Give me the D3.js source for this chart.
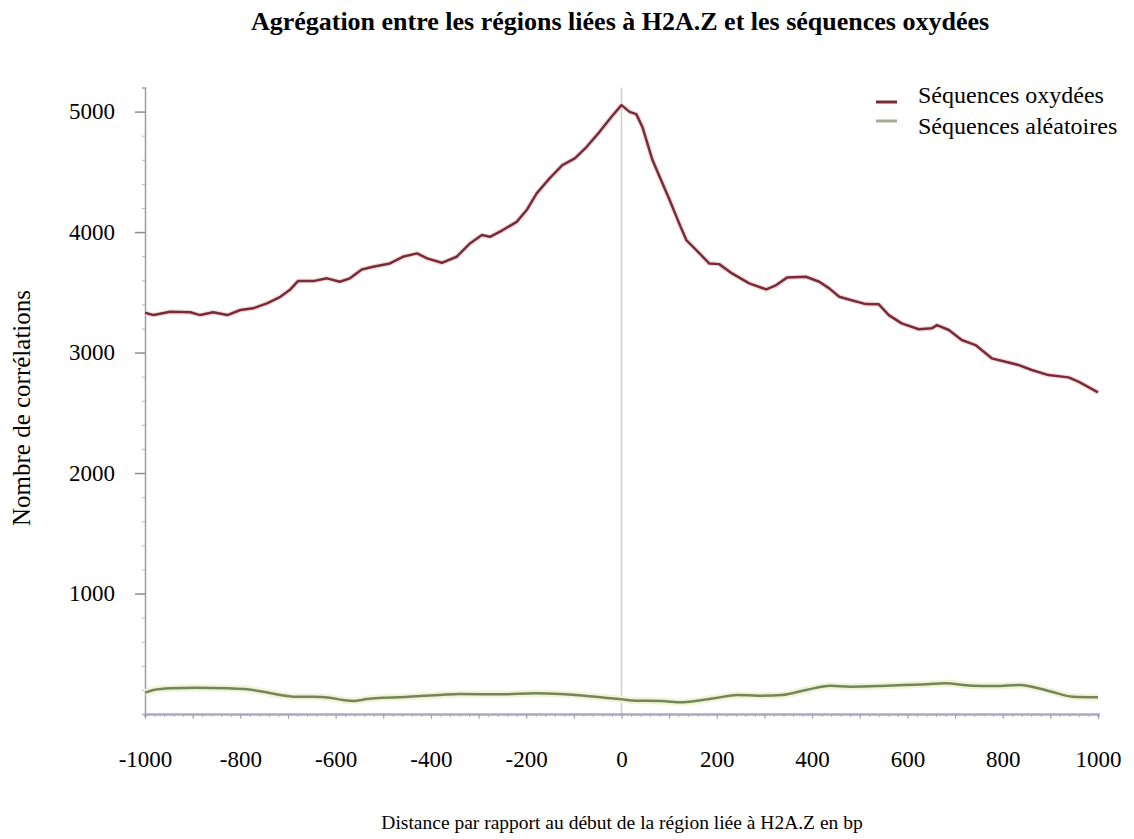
<!DOCTYPE html>
<html>
<head>
<meta charset="utf-8">
<script src="https://cdn.jsdelivr.net/npm/d3@7"></script>
<style>
  html, body { margin: 0; padding: 0; background: #fff; }
  svg { display: block; }
  text { font-family: "Liberation Serif", "Times New Roman", serif; fill: #000; }
</style>
</head>
<body>
<svg id="chart" width="1134" height="839"></svg>
<script>
// ---- data ----
const titleText = "Agrégation entre les régions liées à H2A.Z et les séquences oxydées";
const xLabelText = "Distance par rapport au début de la région liée à H2A.Z en bp";
const yLabelText = "Nombre de corrélations";
const seriesNames = ["Séquences oxydées", "Séquences aléatoires"];

const xTickLabels = [-1000, -800, -600, -400, -200, 0, 200, 400, 600, 800, 1000];
const yTickLabels = [1000, 2000, 3000, 4000, 5000];

const oxX = [-1000,-982,-947,-905,-884,-857,-827,-800,-773,-744,-716,-695,-679,-647,-618,-591,-570,-545,-521,-486,
  -459,-429,-408,-377,-346,-318,-293,-276,-249,-220,-199,-178,-151,-124,-98,-73,-46,-21,0,17,
  31,44,65,80,101,121,136,157,184,205,232,268,304,325,348,387,415,436,457,477,
  513,540,561,588,624,651,662,687,714,743,777,806,834,861,896,938,959,1000];
const oxY = [3330,3311,3339,3334,3311,3334,3311,3353,3367,3408,3463,3524,3593,3593,3616,3588,3616,3690,3712,3740,
  3795,3823,3782,3745,3795,3906,3975,3961,4017,4085,4183,4321,4446,4556,4611,4708,4832,4957,5054,4998,
  4979,4871,4598,4459,4266,4072,3934,3851,3740,3734,3657,3574,3524,3560,3624,3629,3588,3533,3463,3441,
  3402,3400,3311,3242,3193,3201,3228,3187,3104,3062,2952,2924,2896,2855,2813,2794,2758,2670];

const alX = [-1000,-982,-947,-890,-827,-785,-752,-716,-689,-647,-612,-584,-563,-534,-501,-465,-423,-381,-339,-255,
  -180,-128,-77,-36,0,31,84,126,159,201,243,287,337,387,438,480,540,591,641,679,
  735,785,836,861,903,947,1000];
const alY = [177,199,213,218,213,205,185,158,144,144,135,116,108,124,135,139,149,158,166,163,
  172,166,152,135,122,110,108,97,110,135,158,152,158,199,235,227,232,241,246,255,
  235,232,241,227,185,144,139];

// ---- layout ----
const svg = d3.select("#chart");
const x = d3.scaleLinear().domain([-1000, 1000]).range([145, 1098]);
const y = d3.scaleLinear().domain([0, 5200]).range([714, 87.5]);

const colorOx = "#7a2b39";
const colorAl = "#73855a";
const axisCol = "#9c9cab";

// vertical line at 0
svg.append("line")
  .attr("x1", x(0)).attr("x2", x(0))
  .attr("y1", y(5200)).attr("y2", y(0))
  .attr("stroke", "#cfcfcf").attr("stroke-width", 1.5);

// y axis: minor ticks
const yMinor = d3.axisLeft(y).tickValues(d3.range(0, 5201, 200)).tickSize(3).tickFormat("");
const gyMinor = svg.append("g").attr("transform", `translate(${x(-1000)},0)`).call(yMinor);
gyMinor.select(".domain").attr("stroke", axisCol).attr("stroke-width", 1.5);
gyMinor.selectAll(".tick line").attr("stroke", "#b8b8c4");

// y axis: major ticks with labels
const yAxis = d3.axisLeft(y).tickValues(yTickLabels).tickSize(10).tickPadding(20).tickFormat(d => d);
const gy = svg.append("g").attr("transform", `translate(${x(-1000)},0)`).call(yAxis);
gy.select(".domain").remove();
gy.selectAll(".tick line").attr("stroke", "#8e8e9a").attr("stroke-width", 1.5);
gy.selectAll(".tick text").attr("font-size", 23).attr("font-family", "Liberation Serif");

// x axis: tiny ticks
const xTiny = d3.axisBottom(x).tickValues(d3.range(-1000, 1001, 20)).tickSize(3).tickFormat("");
const gxTiny = svg.append("g").attr("transform", `translate(0,${y(0)})`).call(xTiny);
gxTiny.select(".domain").attr("stroke", "#a9a9c2").attr("stroke-width", 2.5);
gxTiny.selectAll(".tick line").attr("stroke", "#b0b0c4");

// x axis: ticks every 100
const xMinor = d3.axisBottom(x).tickValues(d3.range(-1000, 1001, 100)).tickSize(5).tickFormat("");
const gxMinor = svg.append("g").attr("transform", `translate(0,${y(0)})`).call(xMinor);
gxMinor.select(".domain").remove();
gxMinor.selectAll(".tick line").attr("stroke", "#a0a0b4");

// x axis labels
const xAxis = d3.axisBottom(x).tickValues(xTickLabels).tickSize(0).tickPadding(37).tickFormat(d => d);
const gx = svg.append("g").attr("transform", `translate(0,${y(0)})`).call(xAxis);
gx.select(".domain").remove();
gx.selectAll(".tick text").attr("font-size", 23).attr("font-family", "Liberation Serif");

// lines
const lineOx = d3.line().x(d => x(d[0])).y(d => y(d[1]));
const lineAl = d3.line().x(d => x(d[0])).y(d => y(d[1])).curve(d3.curveMonotoneX);

svg.append("path")
  .datum(alX.map((v, i) => [v, alY[i]]))
  .attr("d", lineAl).attr("fill", "none")
  .attr("stroke", "#f2f2d6").attr("stroke-width", 7).attr("stroke-linejoin", "round");
svg.append("path")
  .datum(alX.map((v, i) => [v, alY[i]]))
  .attr("d", lineAl).attr("fill", "none")
  .attr("stroke", colorAl).attr("stroke-width", 2.5).attr("stroke-linejoin", "round");

svg.append("path")
  .datum(oxX.map((v, i) => [v, oxY[i]]))
  .attr("d", lineOx).attr("fill", "none")
  .attr("stroke", "#f3dcdc").attr("stroke-width", 5).attr("stroke-linejoin", "round");
svg.append("path")
  .datum(oxX.map((v, i) => [v, oxY[i]]))
  .attr("d", lineOx).attr("fill", "none")
  .attr("stroke", colorOx).attr("stroke-width", 2.5).attr("stroke-linejoin", "round");

// title
svg.append("text")
  .attr("x", 620).attr("y", 30)
  .attr("text-anchor", "middle")
  .attr("font-size", 26).attr("font-weight", "bold")
  .text(titleText);

// axis titles
svg.append("text")
  .attr("x", 622).attr("y", 829)
  .attr("text-anchor", "middle")
  .attr("font-size", 19.5)
  .text(xLabelText);

svg.append("text")
  .attr("transform", "translate(30,408) rotate(-90)")
  .attr("text-anchor", "middle")
  .attr("font-size", 25)
  .text(yLabelText);

// legend
const legendColors = [colorOx, "#a3ad92"];
const legendY = [102, 121];
const textY = [103, 134];
const lg = svg.append("g");
seriesNames.forEach((name, i) => {
  lg.append("line")
    .attr("x1", 876).attr("x2", 897)
    .attr("y1", legendY[i]).attr("y2", legendY[i])
    .attr("stroke", legendColors[i]).attr("stroke-width", 3);
  lg.append("text")
    .attr("x", 918).attr("y", textY[i])
    .attr("font-size", 24)
    .text(name);
});
</script>
</body>
</html>
